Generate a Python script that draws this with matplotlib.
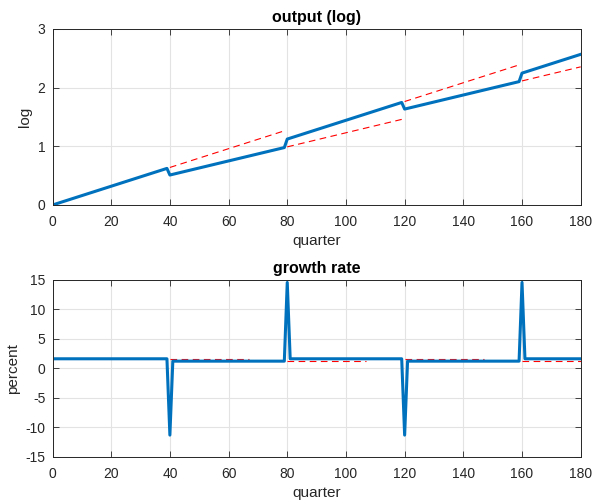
import numpy as np
import matplotlib.pyplot as plt

plt.rcParams['font.family'] = ['Liberation Sans', 'DejaVu Sans']
plt.rcParams['axes.unicode_minus'] = False

# output (log): vertices of the piecewise-linear path
out_q = [0, 39, 40, 79, 80, 119, 120, 159, 160, 180]
out_log = [0.0, 0.624, 0.511, 0.979, 1.124, 1.748, 1.635, 2.103, 2.248, 2.568]

# old-trend extensions after each break (dashed)
trend_q = [(40, 79), (80, 119), (120, 159), (160, 180)]
trend_log = [(0.640, 1.264), (0.991, 1.459), (1.764, 2.388), (2.115, 2.355)]

# growth rate (percent), vertices
gr_q = [1, 39, 40, 41, 79, 80, 81, 119, 120, 121, 159, 160, 161, 180]
gr_pct = [1.6, 1.6, -11.3, 1.2, 1.2, 14.5, 1.6, 1.6, -11.3, 1.2, 1.2, 14.5, 1.6, 1.6]

gr_trend_q = [(40, 67), (80, 107), (120, 147), (160, 180)]
gr_trend_pct = [1.6, 1.2, 1.6, 1.2]

blue = '#0072BD'
edge = '#262626'

fig = plt.figure(figsize=(5.95, 5.04), dpi=100)
ax1 = fig.add_axes([52.5 / 595, 1 - 205 / 504, 528.2 / 595, 176 / 504])
ax2 = fig.add_axes([52.5 / 595, 1 - 457 / 504, 528.2 / 595, 177.5 / 504])

for (q0, q1), (v0, v1) in zip(trend_q, trend_log):
    ax1.plot([q0, q1], [v0, v1], color='red', lw=0.8, dashes=(6, 4))
ax1.plot(out_q, out_log, color=blue, lw=2.2, solid_joinstyle='round')
ax1.set_ylim(0, 3)
ax1.set_yticks([0, 1, 2, 3])
ax1.set_ylabel('log')
ax1.set_title('output (log)', fontweight='bold', fontsize=11.5, pad=5)

for (q0, q1), v in zip(gr_trend_q, gr_trend_pct):
    ax2.plot([q0, q1], [v, v], color='red', lw=0.8, dashes=(6, 4))
ax2.plot(gr_q, gr_pct, color=blue, lw=2.2, solid_joinstyle='round')
ax2.set_ylim(-15, 15)
ax2.set_yticks(np.arange(-15, 16, 5))
ax2.set_ylabel('percent')
ax2.set_title('growth rate', fontweight='bold', fontsize=11.5, pad=5)

for ax in (ax1, ax2):
    ax.set_xlim(0, 180)
    ax.set_xticks(np.arange(0, 181, 20))
    ax.set_xlabel('quarter', fontsize=11, color=edge, labelpad=3)
    ax.yaxis.label.set_size(11)
    ax.yaxis.label.set_color(edge)
    ax.grid(True, color='#e3e3e3', lw=0.8)
    ax.set_axisbelow(True)
    ax.tick_params(direction='in', top=True, right=True, labelsize=10,
                   colors=edge, length=4, width=0.6)
    ax.tick_params(axis='x', pad=7.5)
    ax.tick_params(axis='y', pad=5)
    for sp in ax.spines.values():
        sp.set_color(edge)
        sp.set_linewidth(0.7)

fig.savefig('out.png', dpi=100)
